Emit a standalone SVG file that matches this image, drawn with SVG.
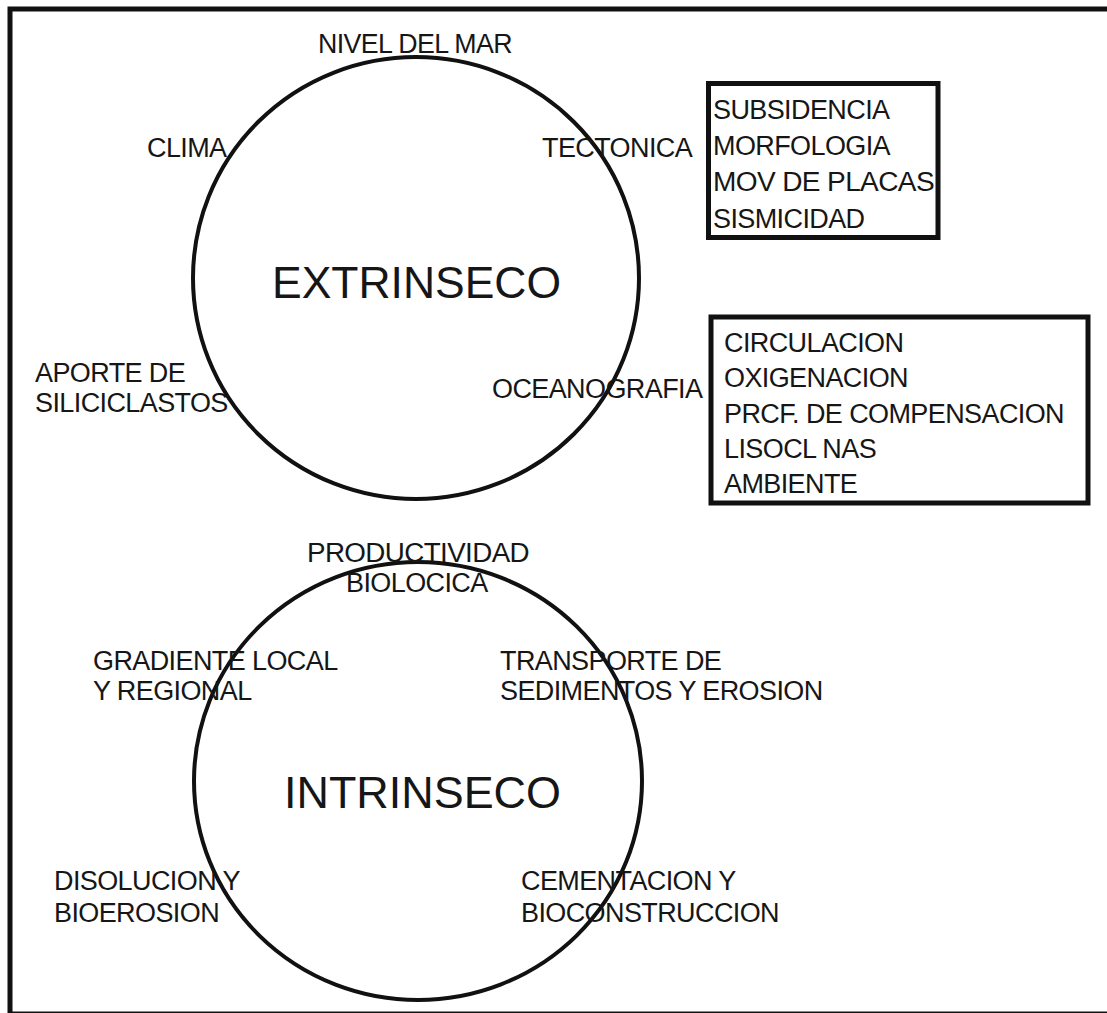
<svg xmlns="http://www.w3.org/2000/svg" width="1107" height="1013" viewBox="0 0 1107 1013">
<style>
.t{font-family:"Liberation Sans",Arial,sans-serif;font-size:27px;letter-spacing:-0.6px;fill:#161616}
.big{font-family:"Liberation Sans",Arial,sans-serif;font-size:44px;fill:#161616}
.c{fill:none;stroke:#111;stroke-width:4}
.b{fill:#fff;stroke:#111;stroke-width:5}
</style>
<rect x="0" y="0" width="1107" height="1013" fill="#fff"/>
<rect id="frame" x="10" y="9" width="1110" height="1005" fill="none" stroke="#111" stroke-width="5"/>
<g id="extrinseco">
<ellipse class="c" cx="416" cy="278" rx="223" ry="221"/>
<text class="big" x="272" y="298" textLength="289" lengthAdjust="spacingAndGlyphs">EXTRINSECO</text>
</g>
<g id="intrinseco">
<ellipse class="c" cx="418" cy="781" rx="224" ry="219"/>
<text class="big" x="284" y="808" font-size="46" textLength="277" lengthAdjust="spacingAndGlyphs">INTRINSECO</text>
</g>
<g id="nivel"><text class="t" x="318" y="53" textLength="194" lengthAdjust="spacingAndGlyphs">NIVEL DEL MAR</text></g>
<g id="clima"><text class="t" x="147" y="157">CLIMA</text></g>
<g id="tectonica"><text class="t" x="542" y="157">TECTONICA</text></g>
<g id="aporte"><text class="t" x="35" y="382">APORTE DE</text><text class="t" x="35" y="412">SILICICLASTOS</text></g>
<g id="oceanografia"><text class="t" x="492" y="398">OCEANOGRAFIA</text></g>
<g id="box-tectonica">
<rect class="b" x="708.5" y="83.5" width="229.5" height="154"/>
<text class="t" x="713" y="119">SUBSIDENCIA</text>
<text class="t" x="713" y="155">MORFOLOGIA</text>
<text class="t" x="713" y="191" textLength="221" lengthAdjust="spacingAndGlyphs">MOV DE PLACAS</text>
<text class="t" x="713" y="228">SISMICIDAD</text>
</g>
<g id="box-oceanografia">
<rect class="b" x="711" y="317" width="377" height="186"/>
<text class="t" x="724" y="352">CIRCULACION</text>
<text class="t" x="724" y="387">OXIGENACION</text>
<text class="t" x="724" y="423" textLength="340" lengthAdjust="spacingAndGlyphs">PRCF. DE COMPENSACION</text>
<text class="t" x="724" y="458">LISOCL NAS</text>
<text class="t" x="724" y="493">AMBIENTE</text>
</g>
<g id="productividad"><text class="t" x="307" y="562" textLength="222" lengthAdjust="spacingAndGlyphs">PRODUCTIVIDAD</text><text class="t" x="346" y="592">BIOLOCICA</text></g>
<g id="gradiente"><text class="t" x="93" y="670">GRADIENTE LOCAL</text><text class="t" x="93" y="700">Y REGIONAL</text></g>
<g id="transporte"><text class="t" x="500" y="670">TRANSPORTE DE</text><text class="t" x="500" y="700">SEDIMENTOS Y EROSION</text></g>
<g id="disolucion"><text class="t" x="54" y="890">DISOLUCION Y</text><text class="t" x="54" y="922">BIOEROSION</text></g>
<g id="cementacion"><text class="t" x="521" y="890">CEMENTACION Y</text><text class="t" x="521" y="922">BIOCONSTRUCCION</text></g>
<g id="connectors"></g>
</svg>
